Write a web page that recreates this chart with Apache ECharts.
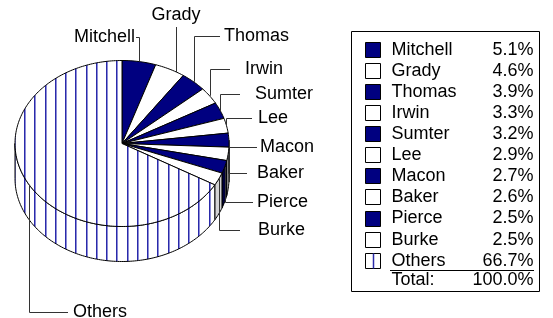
<!DOCTYPE html>
<html>
<head>
<meta charset="utf-8">
<script src="https://cdn.jsdelivr.net/npm/echarts@6/dist/echarts.min.js"></script>
<style>
  html, body { margin: 0; padding: 0; background: #fff; }
  #chart { width: 553px; height: 318px; }
</style>
</head>
<body>
<div id="chart"></div>
<script>
// data (percent of total)
const names = ['Mitchell', 'Grady', 'Thomas', 'Irwin', 'Sumter', 'Lee', 'Macon', 'Baker', 'Pierce', 'Burke', 'Others'];
const shares = [5.1, 4.6, 3.9, 3.3, 3.2, 2.9, 2.7, 2.6, 2.5, 2.5, 66.7];
const totalLabel = 'Total:';

// look of each slice: navy / white / striped
const kinds = ['navy', 'white', 'navy', 'white', 'navy', 'white', 'navy', 'white', 'navy', 'white', 'stripe'];

// label placement: text x, text y, where the leader stops, text align
// (null = leader rises straight up under the text)
const labelLayout = [
  [135, 37, 136, 'right'],
  [176, 15, null, 'center'],
  [224, 36, 220, 'left'],
  [245, 69, 230, 'left'],
  [255, 94, 240, 'left'],
  [258, 118, 252, 'left'],
  [260, 147, 257, 'left'],
  [257, 173, 247, 'left'],
  [257, 202, 253, 'left'],
  [258, 230, 240, 'left'],
  [73, 312, 68, 'left']
];

const FONT = '18px "Liberation Sans", Arial, sans-serif';
const NAVY = '#000080';
const cx = 122, cy = 143.5, rx = 107, ry = 83, depth = 35;

const total = shares.reduce((a, b) => a + b, 0);
const starts = [];
let acc = 0;
shares.forEach(v => { starts.push(acc / total * Math.PI * 2); acc += v; });
const ends = starts.map((s, i) => s + shares[i] / total * Math.PI * 2);

// vertical stripe fill used for "Others"
const stripeCanvas = document.createElement('canvas');
stripeCanvas.width = 41;
stripeCanvas.height = 4;
(function () {
  const ctx = stripeCanvas.getContext('2d');
  ctx.fillStyle = '#fff';
  ctx.fillRect(0, 0, 41, 4);
  [4, 14, 24, 34].forEach(x => {
    ctx.fillStyle = '#2a2aaa';
    ctx.fillRect(x, 0, 1, 4);
    ctx.fillStyle = '#8c8cd6';
    ctx.fillRect(x + 1, 0, 1, 4);
  });
})();
const stripes = { image: stripeCanvas, repeat: 'repeat' };

function pt(t, dz) {
  return [cx + rx * Math.sin(t), cy - ry * Math.cos(t) + (dz || 0)];
}
function arc(a, b, dz) {
  const n = Math.max(2, Math.ceil(Math.abs(b - a) / 0.02));
  const out = [];
  for (let k = 0; k <= n; k++) out.push(pt(a + (b - a) * k / n, dz));
  return out;
}
function topFill(i) {
  return kinds[i] === 'navy' ? NAVY : kinds[i] === 'white' ? '#fff' : stripes;
}
function sideFill(i) {
  return kinds[i] === 'navy' ? '#00003c' : kinds[i] === 'white' ? '#d4d4d4' : stripes;
}

const sliceData = shares.map((v, i) => [i, v]);

// legend box, built from the same arrays
const legendRows = [{
  type: 'rect',
  shape: { x: 351.5, y: 31.5, width: 188, height: 260 },
  style: { fill: '#fff', stroke: '#000', lineWidth: 1 }
}];
const rowY = i => 49.7 + i * 21.1;
names.forEach((n, i) => {
  const y = rowY(i);
  const sy = Math.round(y - 8) + 0.5;
  legendRows.push({
    type: 'rect',
    shape: { x: 365.5, y: sy, width: 15, height: 15 },
    style: { fill: kinds[i] === 'stripe' ? '#fff' : topFill(i), stroke: '#000', lineWidth: 1 }
  });
  if (kinds[i] === 'stripe') {
    legendRows.push({
      type: 'line',
      shape: { x1: 373.5, y1: sy, x2: 373.5, y2: sy + 15 },
      style: { stroke: '#2a2aaa', lineWidth: 1.5 }
    });
  }
  legendRows.push({
    type: 'text',
    style: { text: n, x: 391.5, y: y, font: FONT, fill: '#000', align: 'left', verticalAlign: 'middle' }
  });
  legendRows.push({
    type: 'text',
    style: { text: shares[i].toFixed(1) + '%', x: 533.5, y: y, font: FONT, fill: '#000', align: 'right', verticalAlign: 'middle' }
  });
});
legendRows.push({
  type: 'line',
  shape: { x1: 390, y1: 270.5, x2: 534, y2: 270.5 },
  style: { stroke: '#000', lineWidth: 1 }
});
legendRows.push({
  type: 'text',
  style: { text: totalLabel, x: 391.5, y: 280, font: FONT, fill: '#000', align: 'left', verticalAlign: 'middle' }
});
legendRows.push({
  type: 'text',
  style: { text: total.toFixed(1) + '%', x: 533.5, y: 280, font: FONT, fill: '#000', align: 'right', verticalAlign: 'middle' }
});

const chart = echarts.init(document.getElementById('chart'), null, { renderer: 'canvas' });

chart.setOption({
  animation: false,
  graphic: legendRows,
  series: [
    {
      // side wall of the disc (front half only)
      type: 'custom',
      coordinateSystem: 'none',
      data: sliceData,
      z: 1,
      renderItem: (params, api) => {
        const i = api.value(0);
        const t1 = Math.max(starts[i], Math.PI / 2);
        const t2 = Math.min(ends[i], Math.PI * 1.5);
        if (t2 <= t1) return { type: 'group', children: [] };
        const pts = arc(t1, t2, 0).concat(arc(t2, t1, depth));
        return {
          type: 'polygon',
          shape: { points: pts },
          style: { fill: sideFill(i), stroke: '#000', lineWidth: 1 }
        };
      }
    },
    {
      // top face
      type: 'custom',
      coordinateSystem: 'none',
      data: sliceData,
      z: 2,
      renderItem: (params, api) => {
        const i = api.value(0);
        const pts = [[cx, cy]].concat(arc(starts[i], ends[i], 0));
        return {
          type: 'polygon',
          shape: { points: pts },
          style: { fill: topFill(i), stroke: '#000', lineWidth: 1 }
        };
      }
    },
    {
      // labels with elbow leaders
      type: 'custom',
      coordinateSystem: 'none',
      data: sliceData,
      z: 3,
      renderItem: (params, api) => {
        const i = api.value(0);
        const mid = (starts[i] + ends[i]) / 2;
        const lay = labelLayout[i];
        let a = pt(mid, 0);
        let linePts;
        if (lay[2] == null) {
          // straight up from the rim under the label
          const x = Math.round(lay[0]) + 0.5;
          const rimY = cy - ry * Math.sqrt(1 - Math.pow((x - cx) / rx, 2));
          linePts = [[x, rimY], [x, 27]];
        } else {
          const ax = Math.round(a[0]) + 0.5;
          const ly = Math.round(lay[1]) + 0.5;
          linePts = [[ax, a[1]], [ax, ly], [lay[2], ly]];
        }
        return {
          type: 'group',
          children: [
            {
              type: 'polyline',
              shape: { points: linePts },
              style: { stroke: '#333', lineWidth: 1, fill: null }
            },
            {
              type: 'text',
              style: {
                text: names[i], x: lay[0], y: lay[1], font: FONT, fill: '#000',
                align: lay[3], verticalAlign: 'middle'
              }
            }
          ]
        };
      }
    }
  ]
});
</script>
</body>
</html>
